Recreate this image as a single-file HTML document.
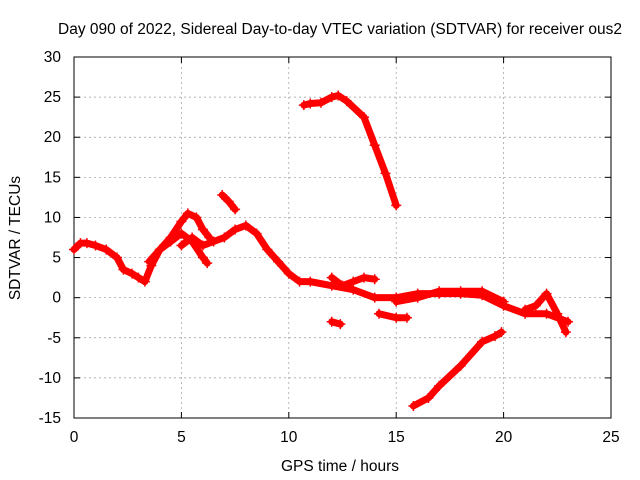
<!DOCTYPE html>
<html><head><meta charset="utf-8"><style>
body{margin:0;background:#fff}
svg{display:block;font-family:"Liberation Sans",sans-serif;font-size:15.5px}
</style></head><body>
<svg id="c" width="640" height="480" viewBox="0 0 640 480"></svg>
<script>
const xTicks=[0,5,10,15,20,25];
const yTicks=[-15,-10,-5,0,5,10,15,20,25,30];
const trackA=[[0,6],[0.3,6.8],[0.6,6.8],[1,6.5],[1.5,6],[2,5],[2.3,3.5],[2.7,3],[3,2.5],[3.3,2],[3.6,4],[4,6],[4.5,7.5],[5,9.5],[5.3,10.5],[5.7,10],[6,8.5],[6.3,7.5]];
const trackB=[[3.5,4.5],[4,6],[4.5,7],[5,8],[5.5,7],[6,5],[6.2,4.3]];
const trackC=[[5,6.5],[5.5,7.5],[6,6.5],[6.5,7],[7,7.5],[7.5,8.5],[8,9],[8.5,8],[9,6],[9.5,4.5],[10,3],[10.5,2],[11,2],[12,1.5],[13,1],[14,0],[15,0],[16,0.5],[17,0.5],[18,0.5],[19,0.3],[20,-1],[21,-2],[22,-2],[23,-3]];
const trackD=[[6.9,12.8],[7.2,12],[7.5,11]];
const trackE=[[10.7,24],[11,24.2],[11.5,24.3],[12,25],[12.3,25.2],[12.7,24.5],[13.5,22.5],[14,19],[14.5,15.5],[15,11.5]];
const trackF=[[15.8,-13.5],[16.5,-12.5],[17,-11],[18,-8.5],[19,-5.5],[19.6,-4.8],[19.9,-4.3]];
const trackG=[[12,-3],[12.4,-3.3]];
const trackH=[[14.2,-2],[15,-2.5],[15.5,-2.5]];
const trackI=[[12,2.5],[12.5,1.5],[13,2],[13.5,2.5],[14,2.3]];
const trackJ=[[21,-1.5],[21.5,-1],[22,0.5],[22.5,-2],[22.9,-4.3]];
const trackK=[[15,-0.5],[16,0],[17,0.8],[18,0.8],[19,0.8],[20,-0.5]];
const tracks=[trackA,trackB,trackC,trackD,trackE,trackF,trackG,trackH,trackI,trackJ,trackK];

const L=74,R=611,T=57,B=418;
const sx=v=>L+(v-0)/(25-0)*(R-L);
const sy=v=>B-(v+15)/(45)*(B-T);
const svg=document.getElementById('c');
const NS='http://www.w3.org/2000/svg';
function mk(tag,attrs,parent){const e=document.createElementNS(NS,tag);for(const k in attrs)e.setAttribute(k,attrs[k]);(parent||svg).appendChild(e);return e;}

const grid=mk('g',{});


xTicks.forEach(t=>{
  if(t>0&&t<25){mk('line',{x1:sx(t),x2:sx(t),y1:T,y2:B,stroke:'#999','stroke-dasharray':'2,3','stroke-width':0.7},grid);}
  const tx=mk('text',{x:sx(t),y:B+24,'text-anchor':'middle',fill:'#000'});
  tx.textContent=t;
  
  
  mk('line',{x1:sx(t),x2:sx(t),y1:B,y2:B-6,stroke:'#000'});
  mk('line',{x1:sx(t),x2:sx(t),y1:T,y2:T+6,stroke:'#000'});
});
yTicks.forEach(t=>{
  if(t>-15&&t<30){mk('line',{x1:L,x2:R,y1:sy(t),y2:sy(t),stroke:'#999','stroke-dasharray':'2,3','stroke-width':0.7},grid);}
  const tx=mk('text',{x:L-13,y:sy(t)+5,'text-anchor':'end',fill:'#000'});
  tx.textContent=t;
  
  
  mk('line',{x1:L,x2:L+6,y1:sy(t),y2:sy(t),stroke:'#000'});
  mk('line',{x1:R,x2:R-6,y1:sy(t),y2:sy(t),stroke:'#000'});
});
const frame=mk('rect',{x:L,y:T,width:R-L,height:B-T,fill:'none',stroke:'#000'});



tracks.forEach(tr=>{
  const g=mk('g',{});
  
  
  mk('polyline',{points:tr.map(p=>sx(p[0])+','+sy(p[1])).join(' '),fill:'none',stroke:'#f00','stroke-width':7,'stroke-linejoin':'round','stroke-linecap':'round'},g);
  tr.forEach(p=>{
    const x=sx(p[0]),y=sy(p[1]);
    const m=mk('path',{d:`M${x-5},${y}h10M${x},${y-5}v10`,stroke:'#f00','stroke-width':1.5},g);
    
    
  });
});

const title=mk('text',{x:340,y:34,'text-anchor':'middle',fill:'#000'});
title.textContent='Day 090 of 2022, Sidereal Day-to-day VTEC variation (SDTVAR) for receiver ous2';


const xl=mk('text',{x:340,y:471,'text-anchor':'middle',fill:'#000'});
xl.textContent='GPS time / hours';


const yl=mk('text',{x:20,y:238,'text-anchor':'middle',fill:'#000',transform:'rotate(-90 20 238)'});
yl.textContent='SDTVAR / TECUs';


</script>
</body></html>
